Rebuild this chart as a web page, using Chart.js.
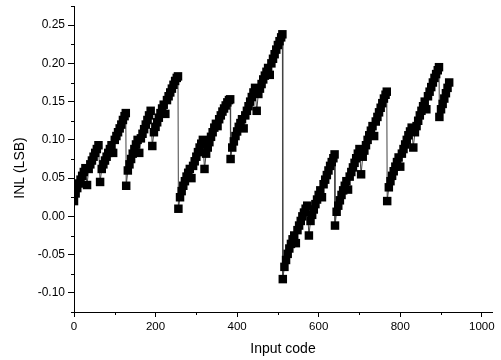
<!DOCTYPE html>
<html lang="en">
<head>
    <meta charset="UTF-8">
    <title>INL vs input code</title>
    <script src="https://cdn.jsdelivr.net/npm/chart.js"></script>
    <style>
        body { margin: 0; background: #fff; }
        .chart-container { width: 501px; height: 360px; }
    </style>
</head>
<body>

    <div class="chart-container">
        <canvas id="inlChart"></canvas>
    </div>

    <script>
        // Input codes (x), two rows per 128-code segment
        const codes = [
            0, 4, 8, 12, 16, 20, 24, 28, 32, 36, 40, 44, 48, 52, 56, 60,
            64, 68, 72, 76, 80, 84, 88, 92, 96, 100, 104, 108, 112, 116, 120, 124, 127,
            128, 132, 136, 140, 144, 148, 152, 156, 160, 164, 168, 172, 176, 180, 184, 188,
            192, 196, 200, 204, 208, 212, 216, 220, 224, 228, 232, 236, 240, 244, 248, 252, 255,
            256, 260, 264, 268, 272, 276, 280, 284, 288, 292, 296, 300, 304, 308, 312, 316,
            320, 324, 328, 332, 336, 340, 344, 348, 352, 356, 360, 364, 368, 372, 376, 380, 383,
            384, 388, 392, 396, 400, 404, 408, 412, 416, 420, 424, 428, 432, 436, 440, 444,
            448, 452, 456, 460, 464, 468, 472, 476, 480, 484, 488, 492, 496, 500, 504, 508, 511,
            512, 516, 520, 524, 528, 532, 536, 540, 544, 548, 552, 556, 560, 564, 568, 572,
            576, 580, 584, 588, 592, 596, 600, 604, 608, 612, 616, 620, 624, 628, 632, 636, 639,
            640, 644, 648, 652, 656, 660, 664, 668, 672, 676, 680, 684, 688, 692, 696, 700,
            704, 708, 712, 716, 720, 724, 728, 732, 736, 740, 744, 748, 752, 756, 760, 764, 767,
            768, 772, 776, 780, 784, 788, 792, 796, 800, 804, 808, 812, 816, 820, 824, 828,
            832, 836, 840, 844, 848, 852, 856, 860, 864, 868, 872, 876, 880, 884, 888, 892, 895,
            896, 900, 904, 908, 912, 916, 920
        ];

        // INL in LSB, same order as codes
        const inl = [
            0.020, 0.030, 0.037, 0.043, 0.048, 0.053, 0.058, 0.063, 0.041, 0.062, 0.068, 0.073, 0.078, 0.083, 0.088, 0.093,
            0.045, 0.062, 0.068, 0.073, 0.078, 0.083, 0.088, 0.093, 0.083, 0.100, 0.105, 0.110, 0.115, 0.120, 0.126, 0.131, 0.135,
            0.040, 0.060, 0.068, 0.075, 0.082, 0.088, 0.094, 0.100, 0.083, 0.102, 0.108, 0.114, 0.120, 0.126, 0.132, 0.138,
            0.092, 0.110, 0.117, 0.123, 0.129, 0.135, 0.141, 0.146, 0.134, 0.152, 0.157, 0.162, 0.167, 0.172, 0.177, 0.181, 0.183,
            0.010, 0.025, 0.033, 0.040, 0.046, 0.052, 0.057, 0.062, 0.050, 0.066, 0.072, 0.078, 0.084, 0.090, 0.095, 0.100,
            0.062, 0.082, 0.090, 0.097, 0.104, 0.110, 0.116, 0.121, 0.118, 0.127, 0.132, 0.137, 0.141, 0.145, 0.149, 0.152, 0.153,
            0.075, 0.090, 0.098, 0.105, 0.111, 0.117, 0.122, 0.127, 0.115, 0.132, 0.138, 0.144, 0.150, 0.156, 0.162, 0.168,
            0.138, 0.160, 0.167, 0.173, 0.179, 0.184, 0.189, 0.194, 0.185, 0.200, 0.206, 0.212, 0.218, 0.224, 0.229, 0.234, 0.238,
            -0.082, -0.066, -0.057, -0.049, -0.042, -0.036, -0.030, -0.025, -0.035, -0.018, -0.012, -0.006, 0.000, 0.005, 0.010, 0.014,
            -0.025, -0.006, 0.002, 0.009, 0.016, 0.022, 0.028, 0.034, 0.025, 0.042, 0.048, 0.054, 0.060, 0.066, 0.071, 0.076, 0.081,
            -0.012, 0.006, 0.014, 0.021, 0.028, 0.034, 0.040, 0.046, 0.035, 0.052, 0.058, 0.064, 0.070, 0.076, 0.082, 0.088,
            0.055, 0.078, 0.086, 0.093, 0.100, 0.106, 0.112, 0.118, 0.105, 0.124, 0.130, 0.136, 0.142, 0.148, 0.154, 0.159, 0.163,
            0.020, 0.038, 0.046, 0.053, 0.059, 0.065, 0.071, 0.077, 0.065, 0.082, 0.088, 0.094, 0.100, 0.106, 0.111, 0.116,
            0.090, 0.110, 0.118, 0.125, 0.132, 0.138, 0.144, 0.150, 0.140, 0.157, 0.163, 0.169, 0.175, 0.181, 0.186, 0.191, 0.195,
            0.130, 0.140, 0.147, 0.154, 0.161, 0.168, 0.175
        ];

        // axis tick labels
        const xTickLabels = ['0', '200', '400', '600', '800', '1000'];
        const yTickLabels = ['-0.10', '-0.05', '0.00', '0.05', '0.10', '0.15', '0.20', '0.25'];

        const fontFamily = "'Liberation Sans', Arial, sans-serif";

        function yLabel(v) {
            const s = (Math.round(v * 1000) / 1000).toFixed(2).replace('-0.00', '0.00');
            return yTickLabels.includes(s) && Math.abs(Math.round(v / 0.05) * 0.05 - v) < 1e-6 ? s : '';
        }
        function xLabel(v) {
            const s = String(Math.round(v));
            return xTickLabels.includes(s) ? s : '';
        }

        // short minor ticks + rotated y title
        const extras = {
            id: 'extras',
            afterDraw(chart) {
                const ctx = chart.ctx;
                const xs = chart.scales.x, ys = chart.scales.y;
                ctx.save();
                ctx.strokeStyle = '#000';
                ctx.lineWidth = 1;
                ys.ticks.forEach(t => {
                    if (yLabel(t.value) === '') {
                        const py = Math.round(ys.getPixelForValue(t.value)) + 0.5;
                        ctx.beginPath();
                        ctx.moveTo(ys.right - 3, py);
                        ctx.lineTo(ys.right, py);
                        ctx.stroke();
                    }
                });
                xs.ticks.forEach(t => {
                    if (xLabel(t.value) === '') {
                        const px = Math.round(xs.getPixelForValue(t.value)) + 0.5;
                        ctx.beginPath();
                        ctx.moveTo(px, xs.top);
                        ctx.lineTo(px, xs.top + 3);
                        ctx.stroke();
                    }
                });
                ctx.translate(20, 168);
                ctx.rotate(-Math.PI / 2);
                ctx.fillStyle = '#000';
                ctx.font = '14px ' + fontFamily;
                ctx.textAlign = 'center';
                ctx.textBaseline = 'middle';
                ctx.fillText('INL (LSB)', 0, 0);
                ctx.restore();
            }
        };

        const ctx = document.getElementById('inlChart').getContext('2d');
        const inlChart = new Chart(ctx, {
            type: 'scatter',
            data: {
                datasets: [{
                    data: codes.map((c, i) => ({ x: c, y: inl[i] })),
                    showLine: true,
                    borderColor: '#444',
                    borderWidth: 1,
                    pointStyle: 'rect',
                    pointRadius: 6,
                    pointBorderWidth: 0,
                    pointBackgroundColor: '#000',
                    pointHoverRadius: 6
                }]
            },
            options: {
                responsive: true,
                maintainAspectRatio: false,
                animation: false,
                layout: { padding: { left: 0, right: 9, top: 5, bottom: 0 } },
                plugins: { legend: { display: false }, tooltip: { enabled: false } },
                scales: {
                    x: {
                        type: 'linear',
                        min: 0,
                        max: 1025,
                        border: { color: '#000', width: 1 },
                        grid: {
                            drawOnChartArea: false,
                            tickLength: 5,
                            tickColor: c => xLabel(c.tick.value) === '' ? 'rgba(0,0,0,0)' : '#000'
                        },
                        ticks: {
                            stepSize: 100,
                            includeBounds: false,
                            autoSkip: false,
                            maxRotation: 0,
                            padding: 3,
                            color: '#000',
                            font: { family: fontFamily, size: 11.5 },
                            callback: v => xLabel(v)
                        },
                        title: {
                            display: true,
                            text: 'Input code',
                            color: '#000',
                            font: { family: fontFamily, size: 14 },
                            padding: { top: 0, bottom: 2 }
                        },
                        afterFit: s => { s.height = 48; s.paddingLeft = 0; s.paddingRight = 0; }
                    },
                    y: {
                        min: -0.125,
                        max: 0.275,
                        border: { color: '#000', width: 1 },
                        grid: {
                            drawOnChartArea: false,
                            tickLength: 6,
                            tickColor: c => yLabel(c.tick.value) === '' ? 'rgba(0,0,0,0)' : '#000'
                        },
                        ticks: {
                            stepSize: 0.025,
                            autoSkip: false,
                            padding: 3,
                            color: '#000',
                            font: { family: fontFamily, size: 12 },
                            callback: v => yLabel(v)
                        },
                        afterFit: s => { s.width = 74; s.paddingTop = 0; s.paddingBottom = 0; }
                    }
                }
            },
            plugins: [extras]
        });
    </script>

</body>
</html>
